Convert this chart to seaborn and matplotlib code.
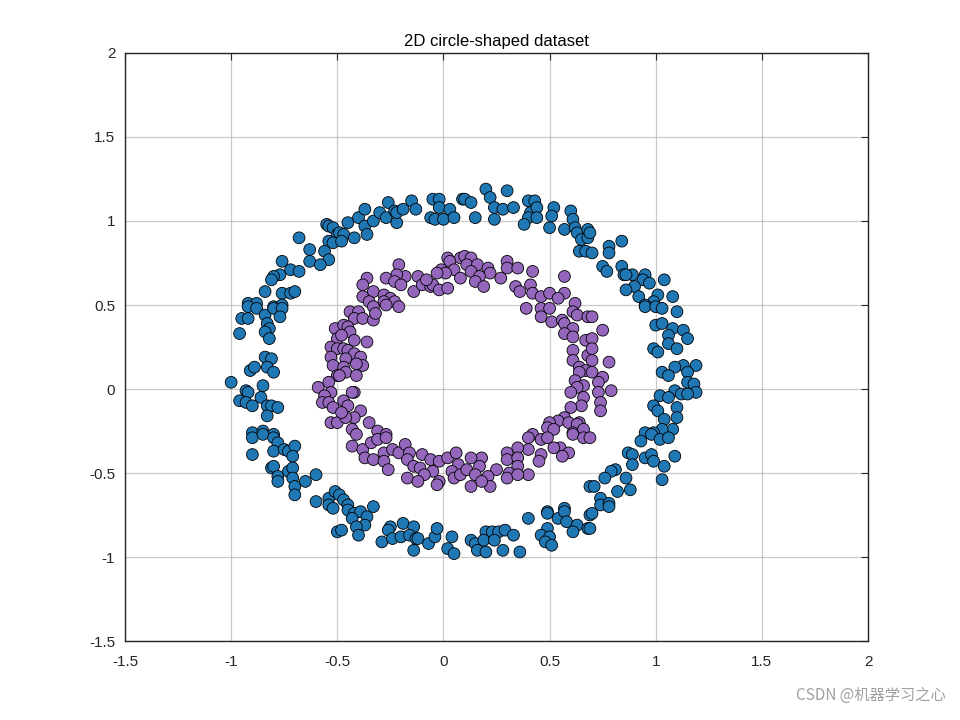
import numpy as np
import pandas as pd
import matplotlib
matplotlib.use("Agg")
import matplotlib.pyplot as plt
import seaborn as sns

# ---------------- data ----------------
outer_x = [
    -0.55, -0.54, -0.52, -0.50, -0.54, -0.52, -0.68, -0.63, -0.56, -0.63, -0.54, -0.58, -0.76, -0.72,
    -0.68, -0.77, -0.80, -0.81, -0.84, -0.76, -0.72, -0.70, -0.92, -0.88, -0.80, -0.76,
    -0.49, -0.47, -0.48, -0.45, -0.42, -0.40, -0.37, -0.36, -0.37, -0.33, -0.30, -0.27, -0.26, -0.23,
    -0.22, -0.22, -0.19, -0.15, -0.13, -0.05, -0.02, -0.02, -0.06, -0.04, 0.00, 0.03, 0.05, 0.09,
    0.20, 0.30, 0.10, 0.13, 0.22, 0.24, 0.28, 0.15, 0.24, 0.33, 0.40, 0.43, 0.41, 0.44, 0.40, 0.38,
    0.44, 0.52, 0.51, 0.50, 0.60, 0.61, 0.57, 0.62, 0.63, 0.68, 0.65, 0.68, 0.64, 0.67,
    0.69, 0.70, 0.78, 0.78, 0.84, 0.75, 0.77, 0.84, 0.85, 0.89, 0.86, 0.95, 0.94, 0.97, 1.04, 0.90,
    0.86, 0.92, 1.01, 1.08, 0.99, 0.95,
    -0.92, -0.88, -0.95, -0.92, -0.84, -0.80, -0.76, -0.77, -0.83, -0.82, -0.84, -0.82, -0.96, -0.84,
    -0.81, -0.91, -0.89, -0.83, -0.80, -1.00, -0.93, -0.92, -0.85, -0.96, -0.93, -0.90, -0.86, -0.83,
    -0.81, -0.78, -0.83, -0.90, -0.85, -0.80,
    0.95, 1.00, 1.03, 1.10, 1.00, 1.03, 1.08, 1.06, 1.13, 1.15, 1.06, 1.10, 0.99, 1.01, 1.19, 1.13,
    1.09, 1.15, 1.03, 1.06, 1.15, 1.18, 1.09, 1.12, 1.19, 1.15, 1.02, 1.06, 0.99, 1.01, 1.10, 1.10,
    1.04, 1.08, 1.03, 0.95, 0.99,
    -0.90, -0.85, -0.80, -0.78, -0.90, -0.80, -0.75, -0.73, -0.70, -0.71, -0.81, -0.80, -0.78, -0.78,
    -0.73, -0.71, -0.71, -0.70, -0.70, -0.65, -0.60, -0.60, -0.54, -0.51, -0.54, -0.52, -0.50,
    -0.49, -0.47, -0.45, -0.45, -0.42, -0.39, -0.43, -0.36, -0.33, -0.37, -0.41, -0.40, -0.48, -0.29,
    -0.25, -0.26, -0.24, -0.19, -0.14, -0.20, -0.16, -0.13, -0.12, -0.14, -0.07, -0.04, -0.03, 0.04,
    0.02, 0.05,
    0.40, 0.49, 0.49, 0.54, 0.57, 0.57, 0.58, 0.63, 0.61, 0.68, 0.69, 0.69, 0.49, 0.46, 0.50, 0.48,
    0.51, 0.13, 0.15, 0.20, 0.19, 0.16, 0.20, 0.23, 0.26, 0.29, 0.33, 0.24, 0.28, 0.36,
    0.93, 0.98, 1.02, 1.06, 0.87, 0.89, 0.89, 0.95, 0.98, 0.99, 1.04, 1.09, 1.03, 0.81, 0.79, 0.86,
    0.76, 0.71, 0.82, 0.88, 0.74, 0.74, 0.78, 0.78, 0.70, 0.69,
]
outer_y = [
    0.98, 0.97, 0.96, 0.92, 0.88, 0.87, 0.90, 0.83, 0.82, 0.76, 0.77, 0.74, 0.76, 0.71,
    0.70, 0.68, 0.67, 0.65, 0.58, 0.57, 0.57, 0.58, 0.51, 0.51, 0.49, 0.50,
    0.93, 0.92, 0.88, 0.99, 0.90, 1.02, 0.97, 0.92, 1.07, 1.00, 1.05, 1.02, 1.11, 1.06,
    0.99, 1.05, 1.07, 1.12, 1.07, 1.13, 1.13, 1.08, 1.02, 1.01, 1.01, 1.07, 1.02, 1.13,
    1.19, 1.18, 1.13, 1.11, 1.14, 1.08, 1.07, 1.02, 1.01, 1.08, 1.12, 1.12, 1.05, 1.08, 1.02, 0.98,
    1.02, 1.08, 1.03, 0.96, 1.06, 1.01, 0.95, 0.96, 0.93, 0.95, 0.89, 0.90, 0.82, 0.82,
    0.93, 0.81, 0.85, 0.81, 0.88, 0.73, 0.70, 0.73, 0.68, 0.68, 0.68, 0.68, 0.65, 0.63, 0.65, 0.61,
    0.59, 0.55, 0.56, 0.55, 0.52, 0.50,
    0.49, 0.48, 0.42, 0.42, 0.44, 0.48, 0.48, 0.43, 0.39, 0.36, 0.34, 0.30, 0.33, 0.19,
    0.18, 0.11, 0.13, 0.13, 0.10, 0.04, -0.01, -0.02, 0.02, -0.07, -0.08, -0.10, -0.05, -0.10,
    -0.10, -0.11, -0.16, -0.26, -0.25, -0.27,
    0.49, 0.49, 0.48, 0.46, 0.38, 0.39, 0.36, 0.32, 0.35, 0.30, 0.27, 0.24, 0.24, 0.22, 0.14, 0.14,
    0.13, 0.10, 0.10, 0.08, 0.04, 0.03, -0.01, -0.03, -0.02, -0.03, -0.04, -0.05, -0.10, -0.13, -0.11, -0.17,
    -0.18, -0.24, -0.24, -0.26, -0.26,
    -0.29, -0.27, -0.29, -0.32, -0.39, -0.37, -0.36, -0.37, -0.34, -0.40, -0.47, -0.46, -0.52, -0.55,
    -0.49, -0.47, -0.53, -0.58, -0.63, -0.55, -0.51, -0.67, -0.65, -0.61, -0.69, -0.71, -0.85,
    -0.63, -0.66, -0.69, -0.72, -0.74, -0.73, -0.77, -0.76, -0.70, -0.81, -0.82, -0.87, -0.84, -0.91,
    -0.82, -0.84, -0.89, -0.80, -0.82, -0.88, -0.87, -0.89, -0.89, -0.96, -0.92, -0.88, -0.83, -0.88,
    -0.95, -0.98,
    -0.77, -0.73, -0.74, -0.77, -0.71, -0.73, -0.79, -0.81, -0.85, -0.83, -0.58, -0.75, -0.83, -0.87, -0.88, -0.91,
    -0.93, -0.90, -0.92, -0.85, -0.90, -0.96, -0.97, -0.85, -0.85, -0.84, -0.87, -0.90, -0.96, -0.97,
    -0.31, -0.27, -0.30, -0.29, -0.38, -0.39, -0.45, -0.41, -0.39, -0.43, -0.46, -0.40, -0.54, -0.48, -0.49, -0.53,
    -0.53, -0.58, -0.61, -0.60, -0.65, -0.69, -0.68, -0.70, -0.74, -0.83,
]

inner_x = [
    0.02, 0.08, 0.03, -0.21, -0.01, 0.05, 0.01, -0.03, 0.08, -0.12, -0.18, -0.22, -0.27, -0.23, -0.20,
    -0.36, -0.38, -0.33, -0.38, -0.28, -0.25, -0.14, -0.10, -0.06, -0.05, -0.02, 0.02, -0.08, -0.35,
    -0.28, -0.23,
    0.10, 0.13, 0.30, 0.11, 0.16, 0.21, 0.22, 0.13, 0.17, 0.15, 0.19, 0.30, 0.35, 0.27, 0.42, 0.57,
    0.34, 0.41, 0.36, 0.42, 0.46, 0.50, 0.57, 0.54, 0.62,
    -0.51, -0.50, -0.53, -0.50, -0.53, -0.52, -0.50, -0.54, -0.59, -0.53, -0.56, -0.57, -0.54, -0.52,
    -0.53, -0.50,
    -0.44, -0.40, -0.42, -0.38, -0.33, -0.33, -0.32, -0.27, -0.21, -0.47, -0.45, -0.44, -0.48, -0.42,
    -0.36, -0.47, -0.45, -0.42, -0.39, -0.46, -0.38, -0.41, -0.47, -0.46, -0.41, -0.49, -0.42, -0.43,
    -0.47, -0.45, -0.39, -0.42, -0.46, -0.48, -0.35, -0.43, -0.31, -0.27,
    0.39, 0.46, 0.50, 0.46, 0.51, 0.56, 0.57, 0.61, 0.63, 0.68, 0.61, 0.57, 0.61, 0.67, 0.61, 0.68,
    0.61, 0.64, 0.67, 0.64, 0.62, 0.66, 0.63, 0.60, 0.66, 0.65, 0.60, 0.57, 0.54, 0.50, 0.59, 0.64,
    0.63, 0.49, 0.52, 0.42, 0.61, 0.66,
    0.70, 0.75, 0.70, 0.70, 0.70, 0.78, 0.70, 0.75, 0.73, 0.79, 0.73, 0.74, 0.74,
    -0.43, -0.41, -0.38, -0.37, -0.34, -0.31, -0.27, -0.33, -0.28, -0.28, -0.26, -0.24, -0.21, -0.18,
    -0.16, -0.17, -0.14, -0.11, -0.10, -0.06, -0.02, -0.05, -0.09, -0.17, -0.12, -0.02, -0.03, 0.02,
    0.06, 0.07, 0.04, 0.05, 0.08,
    0.40, 0.46, 0.49, 0.61, 0.66, 0.55, 0.52, 0.59, 0.56, 0.46, 0.45, 0.40, 0.35, 0.30, 0.30, 0.35,
    0.35, 0.31, 0.30, 0.40, 0.35, 0.25, 0.18, 0.13, 0.17, 0.11, 0.15, 0.21, 0.22, 0.13, 0.18, 0.69,
]
inner_y = [
    0.78, 0.78, 0.76, 0.74, 0.71, 0.71, 0.69, 0.69, 0.66, 0.67, 0.67, 0.68, 0.66, 0.64, 0.62,
    0.66, 0.62, 0.58, 0.55, 0.56, 0.54, 0.58, 0.62, 0.61, 0.62, 0.59, 0.60, 0.65, 0.52,
    0.52, 0.52,
    0.79, 0.78, 0.76, 0.74, 0.74, 0.72, 0.69, 0.70, 0.67, 0.64, 0.61, 0.72, 0.72, 0.66, 0.70, 0.67,
    0.61, 0.62, 0.58, 0.57, 0.55, 0.57, 0.57, 0.54, 0.51,
    0.36, 0.30, 0.25, 0.24, 0.19, 0.14, 0.08, 0.04, 0.01, -0.02, -0.04, -0.08, -0.08, -0.11,
    -0.20, -0.20,
    0.46, 0.46, 0.42, 0.42, 0.49, 0.41, 0.45, 0.50, 0.49, 0.38, 0.37, 0.34, 0.32, 0.29,
    0.28, 0.24, 0.23, 0.21, 0.19, 0.18, 0.14, 0.15, 0.13, 0.10, 0.08, 0.08, -0.02, -0.02,
    -0.07, -0.10, -0.13, -0.17, -0.17, -0.14, -0.20, -0.24, -0.25, -0.27,
    0.48, 0.48, 0.48, 0.43, 0.40, 0.41, 0.39, 0.46, 0.44, 0.43, 0.36, 0.33, 0.31, 0.29, 0.23, 0.20,
    0.17, 0.13, 0.11, 0.10, 0.05, 0.02, 0.01, -0.02, -0.05, -0.10, -0.11, -0.17, -0.19, -0.20, -0.20, -0.20,
    -0.21, -0.23, -0.24, -0.27, -0.26, -0.24,
    0.43, 0.35, 0.30, 0.24, 0.17, 0.16, 0.10, 0.07, 0.04, -0.01, -0.02, -0.08, -0.13,
    -0.34, -0.27, -0.36, -0.41, -0.32, -0.30, -0.29, -0.42, -0.38, -0.43, -0.48, -0.36, -0.38, -0.33,
    -0.38, -0.42, -0.46, -0.47, -0.39, -0.42, -0.43, -0.49, -0.51, -0.53, -0.55, -0.55, -0.57, -0.41,
    -0.38, -0.45, -0.49, -0.53, -0.51,
    -0.29, -0.30, -0.29, -0.27, -0.29, -0.35, -0.35, -0.38, -0.40, -0.39, -0.43, -0.36, -0.35, -0.38, -0.42, -0.41,
    -0.46, -0.50, -0.53, -0.51, -0.51, -0.48, -0.41, -0.41, -0.46, -0.48, -0.51, -0.52, -0.58, -0.58, -0.55, -0.29,
]

class_names = ["outer", "inner"]
tick_values = [-1.5, -1, -0.5, 0, 0.5, 1, 1.5, 2]
tick_labels = ["-1.5", "-1", "-0.5", "0", "0.5", "1", "1.5", "2"]
title_text = "2D circle-shaped dataset"
watermark = "CSDN @机器学习之心"

# ---------------- build table ----------------
df = pd.concat([
    pd.DataFrame({"x": outer_x, "y": outer_y, "cls": class_names[0]}),
    pd.DataFrame({"x": inner_x, "y": inner_y, "cls": class_names[1]}),
], ignore_index=True)

sns.set_theme(style="white")
plt.rcParams["font.family"] = ["Liberation Sans", "Noto Sans CJK SC", "DejaVu Sans"]
plt.rcParams["axes.unicode_minus"] = False

fig = plt.figure(figsize=(9.6, 7.2), dpi=100)
fig.patch.set_facecolor("white")
ax = fig.add_axes([0.1302, 0.1097, 0.7740, 0.8167])

palette = {"outer": "#1f77b4", "inner": "#9467bd"}
sns.scatterplot(data=df, x="x", y="y", hue="cls", palette=palette, s=72,
                edgecolor="black", linewidth=0.6, legend=False, ax=ax, zorder=3)

ax.set_xlim(-1.5, 2)
ax.set_ylim(-1.5, 2)
ax.set_xticks(tick_values)
ax.set_xticklabels(tick_labels)
ax.set_yticks(tick_values)
ax.set_yticklabels(tick_labels)
ax.set_xlabel("")
ax.set_ylabel("")
ax.grid(True, color="#a8a8a8", linewidth=0.9, alpha=0.6, zorder=0)
ax.set_axisbelow(True)
for sp in ax.spines.values():
    sp.set_color("#262626")
    sp.set_linewidth(1.0)
    sp.set_visible(True)
ax.tick_params(axis="both", direction="in", length=5, width=0.8, color="#262626",
               labelsize=11, labelcolor="#262626", top=True, right=True)
ax.tick_params(axis="x", pad=10)
ax.tick_params(axis="y", pad=7)
ax.set_title(title_text, fontsize=12, color="black", pad=5)

fig.text(0.985, 0.022, watermark, ha="right", va="bottom", fontsize=11,
         color="#a0a0a0", family=["Noto Sans CJK SC", "DejaVu Sans"])

fig.savefig("out.png", dpi=100, facecolor="white")
